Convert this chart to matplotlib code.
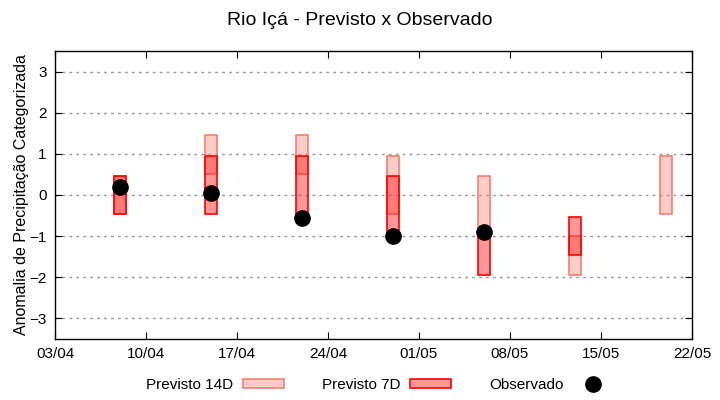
import datetime as dt
import matplotlib
matplotlib.use("Agg")
import matplotlib.pyplot as plt
import matplotlib.dates as mdates
from matplotlib.patches import Rectangle
from matplotlib.lines import Line2D

plt.rcParams['font.family'] = ['Liberation Sans', 'DejaVu Sans']

# forecast dates (year arbitrary)
datas = ["08/04", "15/04", "22/04", "29/04", "06/05", "13/05", "20/05"]

# Previsto 14D (min, max)
p14_min = [-0.45, 0.5, 0.5, -0.45, -1.0, -1.95, -0.45]
p14_max = [0.45, 1.45, 1.45, 0.95, 0.45, -1.0, 0.95]

# Previsto 7D (min, max) - None where missing
p7_min = [-0.45, -0.45, -0.45, -1.0, -1.95, -1.45, None]
p7_max = [0.45, 0.95, 0.95, 0.45, -1.0, -0.53, None]

# Observado
obs = [0.2, 0.05, -0.55, -1.0, -0.9, None, None]

ano = 2024
def to_date(s):
    d, m = s.split("/")
    return dt.date(ano, int(m), int(d))

x = [mdates.date2num(to_date(s)) for s in datas]
largura = 0.92

fig = plt.figure(figsize=(7.2, 4), dpi=100)
ax = fig.add_axes([0.0764, 0.1525, 0.8847, 0.72])

cor14_fill = (0.98, 0.5, 0.45, 0.4)
cor14_edge = (0.95, 0.5, 0.44)
cor7_fill = (1.0, 0.0, 0.0, 0.4)
cor7_edge = (1.0, 0.0, 0.0)

for xi, lo, hi in zip(x, p14_min, p14_max):
    ax.add_patch(Rectangle((xi - largura / 2, lo), largura, hi - lo,
                           facecolor=cor14_fill, edgecolor=cor14_edge, lw=1.2, zorder=3))
for xi, lo, hi in zip(x, p7_min, p7_max):
    if lo is None:
        continue
    ax.add_patch(Rectangle((xi - largura / 2, lo), largura, hi - lo,
                           facecolor=cor7_fill, edgecolor=cor7_edge, lw=1.2, zorder=4))

ox = [xi for xi, o in zip(x, obs) if o is not None]
oy = [o for o in obs if o is not None]
ax.plot(ox, oy, 'o', color='black', markersize=11, zorder=5, linestyle='none')

ax.set_xlim(mdates.date2num(dt.date(ano, 4, 3)), mdates.date2num(dt.date(ano, 5, 22)))
ax.set_ylim(-3.5, 3.5)
ticks = [mdates.date2num(dt.date(ano, 4, 3)) + 7 * i for i in range(8)]
ax.set_xticks(ticks)
ax.xaxis.set_major_formatter(mdates.DateFormatter('%d/%m'))
ax.set_yticks(range(-3, 4))
ax.grid(axis='y', color='#999999', linestyle=(0, (2, 3)), linewidth=1)
ax.tick_params(direction='in', top=True, right=True, labelsize=11, length=5, pad=6)
for sp in ax.spines.values():
    sp.set_linewidth(1)

ax.set_ylabel("Anomalia de Precipitação Categorizada", fontsize=11.5, labelpad=0)
fig.text(0.5, 0.948, "Rio Içá - Previsto x Observado", ha='center', va='center', fontsize=14)

h14 = Rectangle((0, 0), 1, 1, facecolor=cor14_fill, edgecolor=cor14_edge, lw=1.2)
h7 = Rectangle((0, 0), 1, 1, facecolor=cor7_fill, edgecolor=cor7_edge, lw=1.2)
hobs = Line2D([], [], marker='o', color='black', markersize=11, linestyle='none')
fig.legend([h14, h7, hobs], ["Previsto 14D", "Previsto 7D", "Observado"],
           loc='center', bbox_to_anchor=(0.528, 0.038), ncol=3, frameon=False,
           markerfirst=False, fontsize=11, handlelength=2.7, handleheight=0.6,
           columnspacing=2.5, handletextpad=0.6)

fig.savefig("out.png", dpi=100)
